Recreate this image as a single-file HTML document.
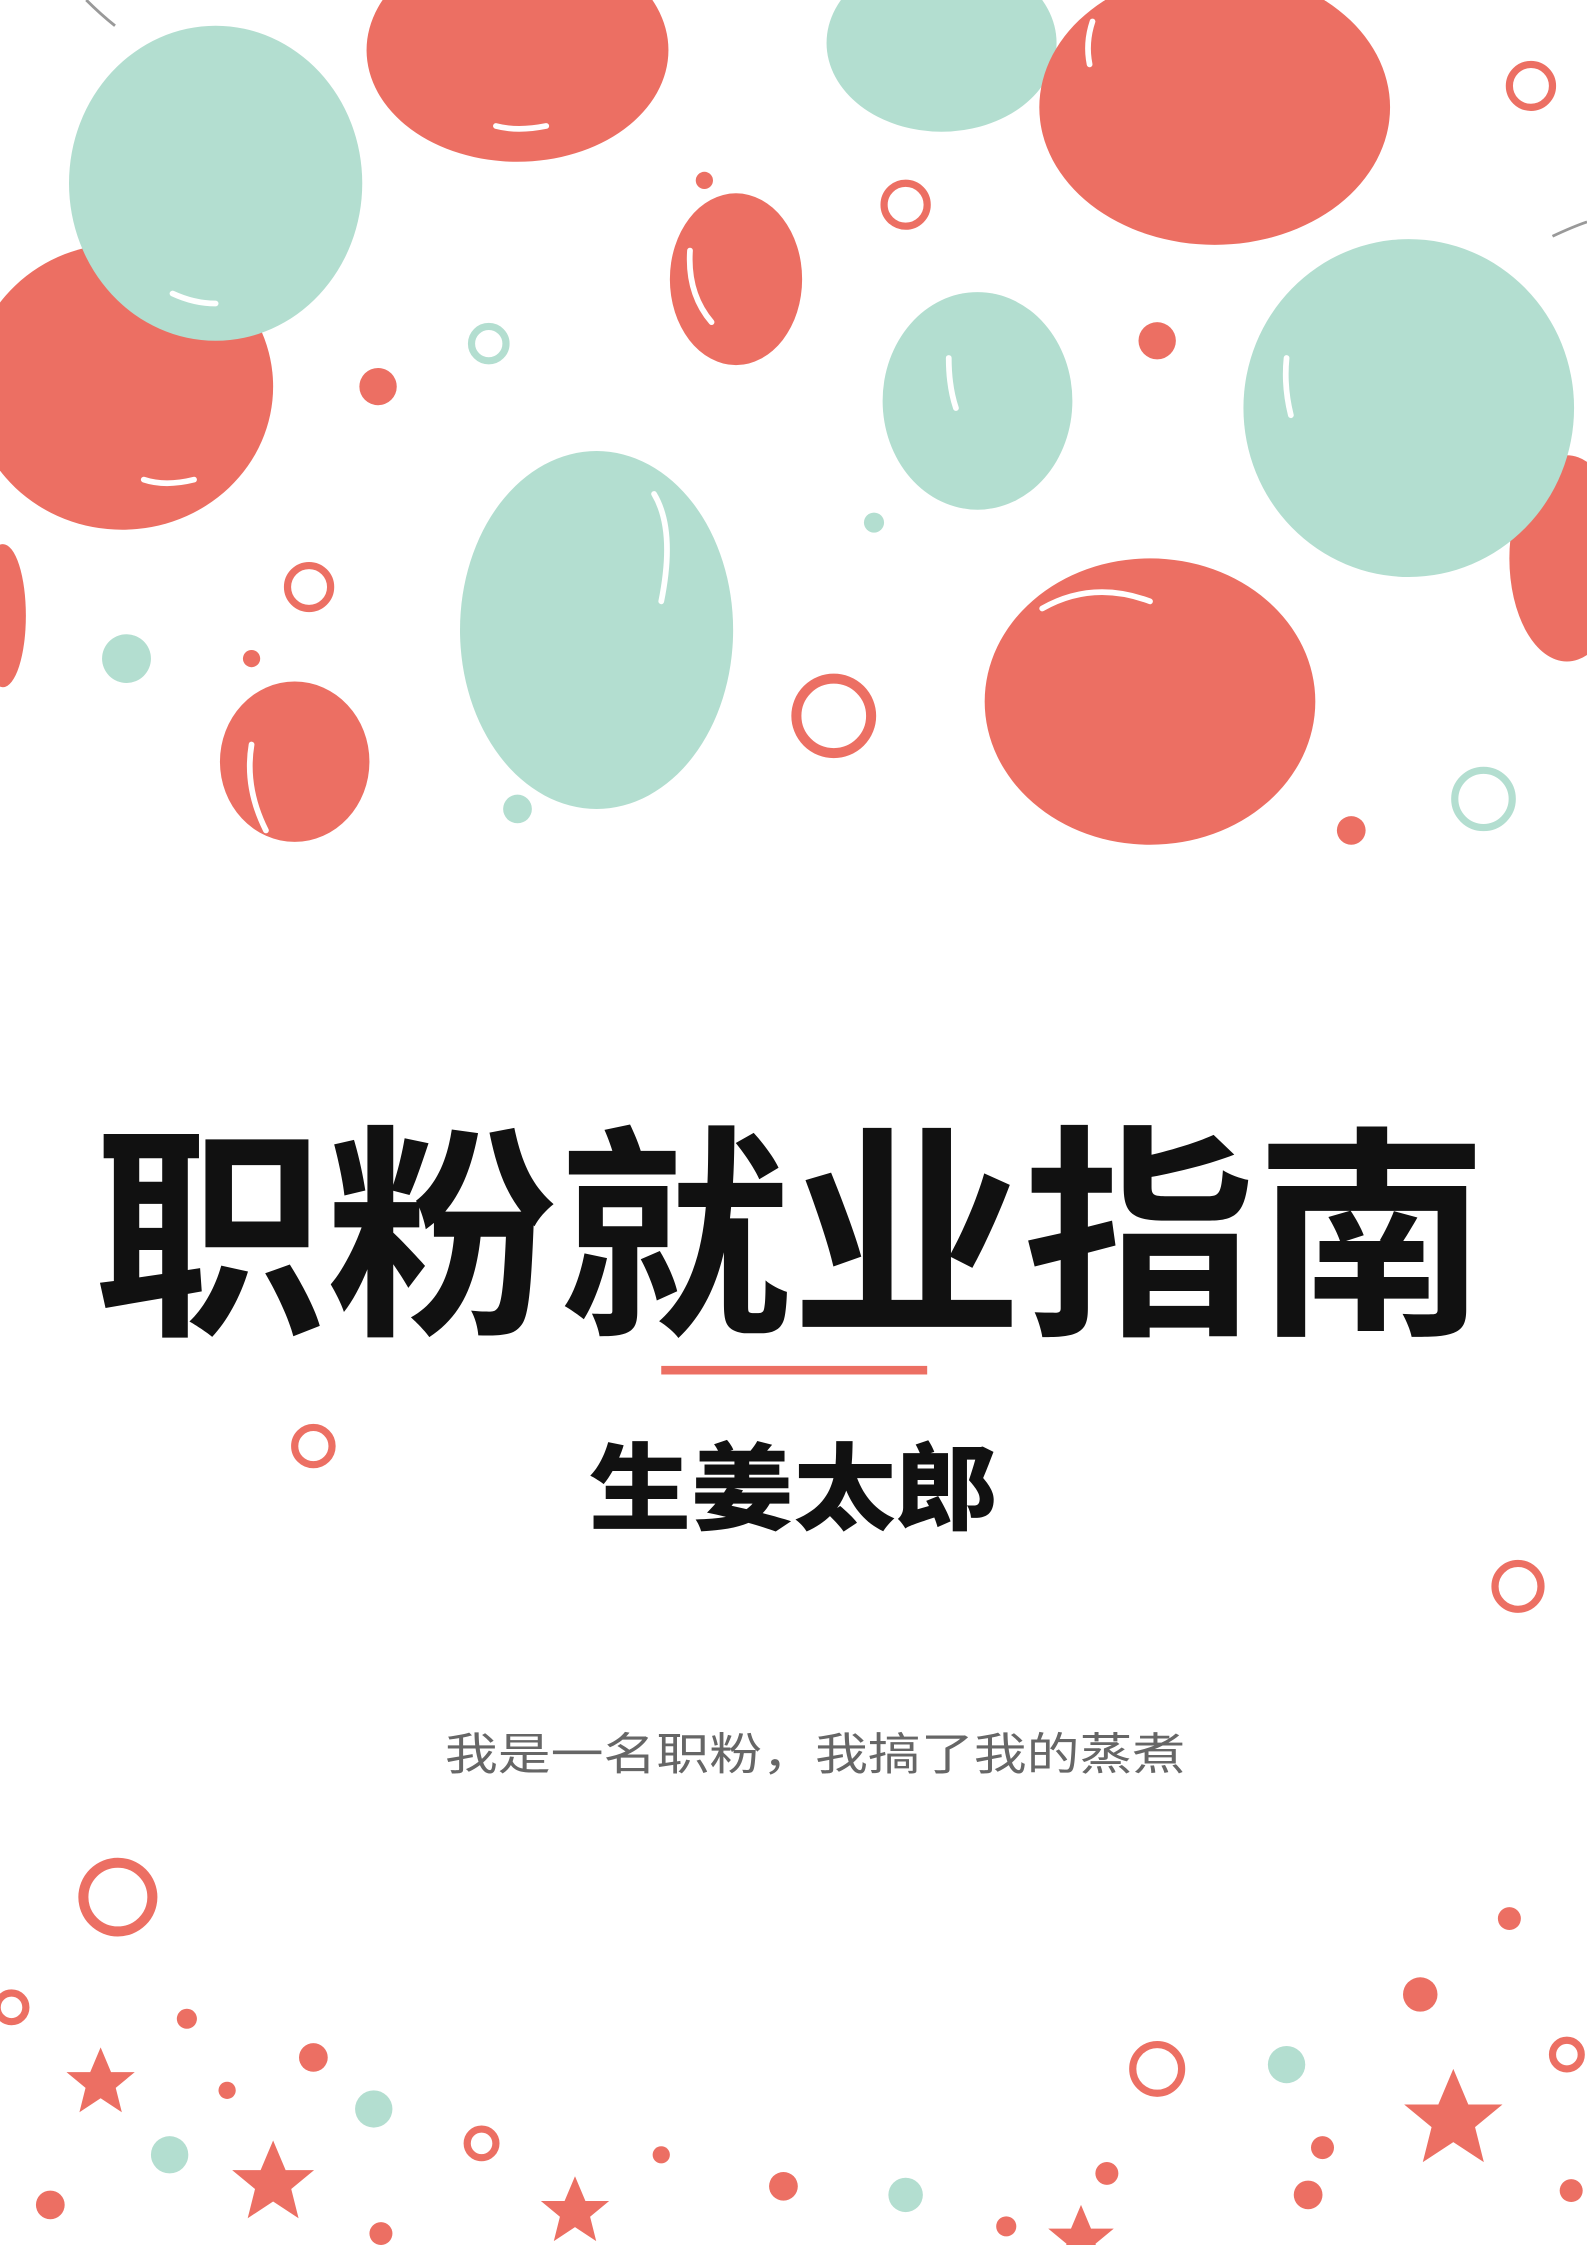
<!DOCTYPE html>
<html><head><meta charset="utf-8">
<style>
html,body{margin:0;padding:0;background:#fff;}
svg{display:block;}
</style></head>
<body>
<svg width="1587" height="2245" viewBox="0 0 1104 1568" preserveAspectRatio="none" xmlns="http://www.w3.org/2000/svg">
<defs>
<symbol id="star" viewBox="-10 -10 20 20"><polygon points="0,-10 2.9,-3.1 9.5,-3.1 4.2,1.3 5.9,8.1 0,4.2 -5.9,8.1 -4.2,1.3 -9.5,-3.1 -2.9,-3.1" fill="#ec6f63"/></symbol>
</defs>
<rect width="1104" height="1568" fill="#fff"/>
<g>
<path d="M60 0 Q70 10 80 18" stroke="#999" stroke-width="2" fill="none"/>
<path d="M1080 165 Q1095 158 1104 155" stroke="#999" stroke-width="2" fill="none"/>
<ellipse cx="85" cy="270" rx="105" ry="100" fill="#ec6f63"/>
<ellipse cx="360" cy="35" rx="105" ry="78" fill="#ec6f63"/>
<ellipse cx="655" cy="30" rx="80" ry="62" fill="#b3ded0"/>
<ellipse cx="150" cy="128" rx="102" ry="110" fill="#b3ded0"/>
<ellipse cx="845" cy="75" rx="122" ry="96" fill="#ec6f63"/>
<ellipse cx="1090" cy="390" rx="40" ry="72" fill="#ec6f63"/>
<ellipse cx="980" cy="285" rx="115" ry="118" fill="#b3ded0"/>
<ellipse cx="2" cy="430" rx="16" ry="50" fill="#ec6f63"/>
<ellipse cx="512" cy="195" rx="46" ry="60" fill="#ec6f63"/>
<circle cx="490" cy="126" r="6" fill="#ec6f63"/>
<ellipse cx="680" cy="280" rx="66" ry="76" fill="#b3ded0"/>
<circle cx="608" cy="365" r="7" fill="#b3ded0"/>
<ellipse cx="415" cy="440" rx="95" ry="125" fill="#b3ded0"/>
<circle cx="360" cy="565" r="10" fill="#b3ded0"/>
<ellipse cx="800" cy="490" rx="115" ry="100" fill="#ec6f63"/>
<circle cx="940" cy="580" r="10" fill="#ec6f63"/>
<ellipse cx="205" cy="532" rx="52" ry="56" fill="#ec6f63"/>
<circle cx="175" cy="460" r="6" fill="#ec6f63"/>
<g stroke="#fff" stroke-width="4" fill="none" stroke-linecap="round">
<path d="M345 88 Q360 92 380 88"/><path d="M120 205 Q135 212 150 212"/>
<path d="M100 335 Q115 340 135 335"/><path d="M760 15 Q755 30 758 45"/>
<path d="M480 175 Q478 205 495 225"/><path d="M660 250 Q660 270 665 285"/>
<path d="M455 345 Q470 370 460 420"/><path d="M725 425 Q760 405 800 420"/>
<path d="M175 520 Q170 550 185 580"/><path d="M895 250 Q893 270 898 290"/>
</g>
</g>
<g fill="none" stroke="#ec6f63" stroke-width="5">
<circle cx="1065" cy="60" r="15"/><circle cx="630" cy="143" r="15"/>
<circle cx="340" cy="240" r="12" stroke="#b3ded0"/><circle cx="215" cy="410" r="15"/>
<circle cx="580" cy="500" r="26" stroke-width="7"/><circle cx="1032" cy="558" r="20" stroke="#b3ded0"/>
<circle cx="218" cy="1010" r="13"/><circle cx="1056" cy="1108" r="16"/>
<circle cx="82" cy="1325" r="24" stroke-width="7"/><circle cx="8" cy="1402" r="10"/>
<circle cx="805" cy="1445" r="17"/><circle cx="1090" cy="1435" r="10"/>
<circle cx="335" cy="1497" r="10"/>
</g>
<g>
<circle cx="805" cy="238" r="13" fill="#ec6f63"/><circle cx="263" cy="270" r="13" fill="#ec6f63"/>
<circle cx="88" cy="460" r="17" fill="#b3ded0"/>
<circle cx="1050" cy="1340" r="8" fill="#ec6f63"/><circle cx="988" cy="1393" r="12" fill="#ec6f63"/>
<circle cx="130" cy="1410" r="7" fill="#ec6f63"/><circle cx="218" cy="1437" r="10" fill="#ec6f63"/>
<circle cx="895" cy="1442" r="13" fill="#b3ded0"/><circle cx="260" cy="1473" r="13" fill="#b3ded0"/>
<circle cx="158" cy="1460" r="6" fill="#ec6f63"/><circle cx="118" cy="1505" r="13" fill="#b3ded0"/>
<circle cx="460" cy="1505" r="6" fill="#ec6f63"/><circle cx="545" cy="1527" r="10" fill="#ec6f63"/>
<circle cx="630" cy="1533" r="12" fill="#b3ded0"/><circle cx="770" cy="1518" r="8" fill="#ec6f63"/>
<circle cx="920" cy="1500" r="8" fill="#ec6f63"/><circle cx="35" cy="1540" r="10" fill="#ec6f63"/>
<circle cx="910" cy="1533" r="10" fill="#ec6f63"/><circle cx="1093" cy="1530" r="8" fill="#ec6f63"/>
<circle cx="700" cy="1555" r="7" fill="#ec6f63"/><circle cx="265" cy="1560" r="8" fill="#ec6f63"/>
<use href="#star" x="45" y="1430" width="50" height="50"/>
<use href="#star" x="160" y="1495" width="60" height="60"/>
<use href="#star" x="375" y="1520" width="50" height="50"/>
<use href="#star" x="728" y="1540" width="48" height="48"/>
<use href="#star" x="975" y="1445" width="72" height="72"/>
</g>
<text x="550" y="920" text-anchor="middle" font-family="'Noto Sans CJK SC','WenQuanYi Zen Hei',sans-serif" font-weight="700" font-size="158" textLength="970" lengthAdjust="spacingAndGlyphs" fill="#111">职粉就业指南</text>
<rect x="460" y="954" width="185" height="6" fill="#ec6f63"/>
<text x="552" y="1063" text-anchor="middle" font-family="'Noto Sans CJK SC','WenQuanYi Zen Hei',sans-serif" font-weight="900" font-size="66" textLength="285" lengthAdjust="spacingAndGlyphs" fill="#111">生姜太郎</text>
<text x="567" y="1236" text-anchor="middle" font-family="'Noto Sans CJK SC','WenQuanYi Zen Hei',sans-serif" font-size="31" textLength="515" lengthAdjust="spacingAndGlyphs" fill="#666">我是一名职粉，我搞了我的蒸煮</text>
</svg>
</body></html>
